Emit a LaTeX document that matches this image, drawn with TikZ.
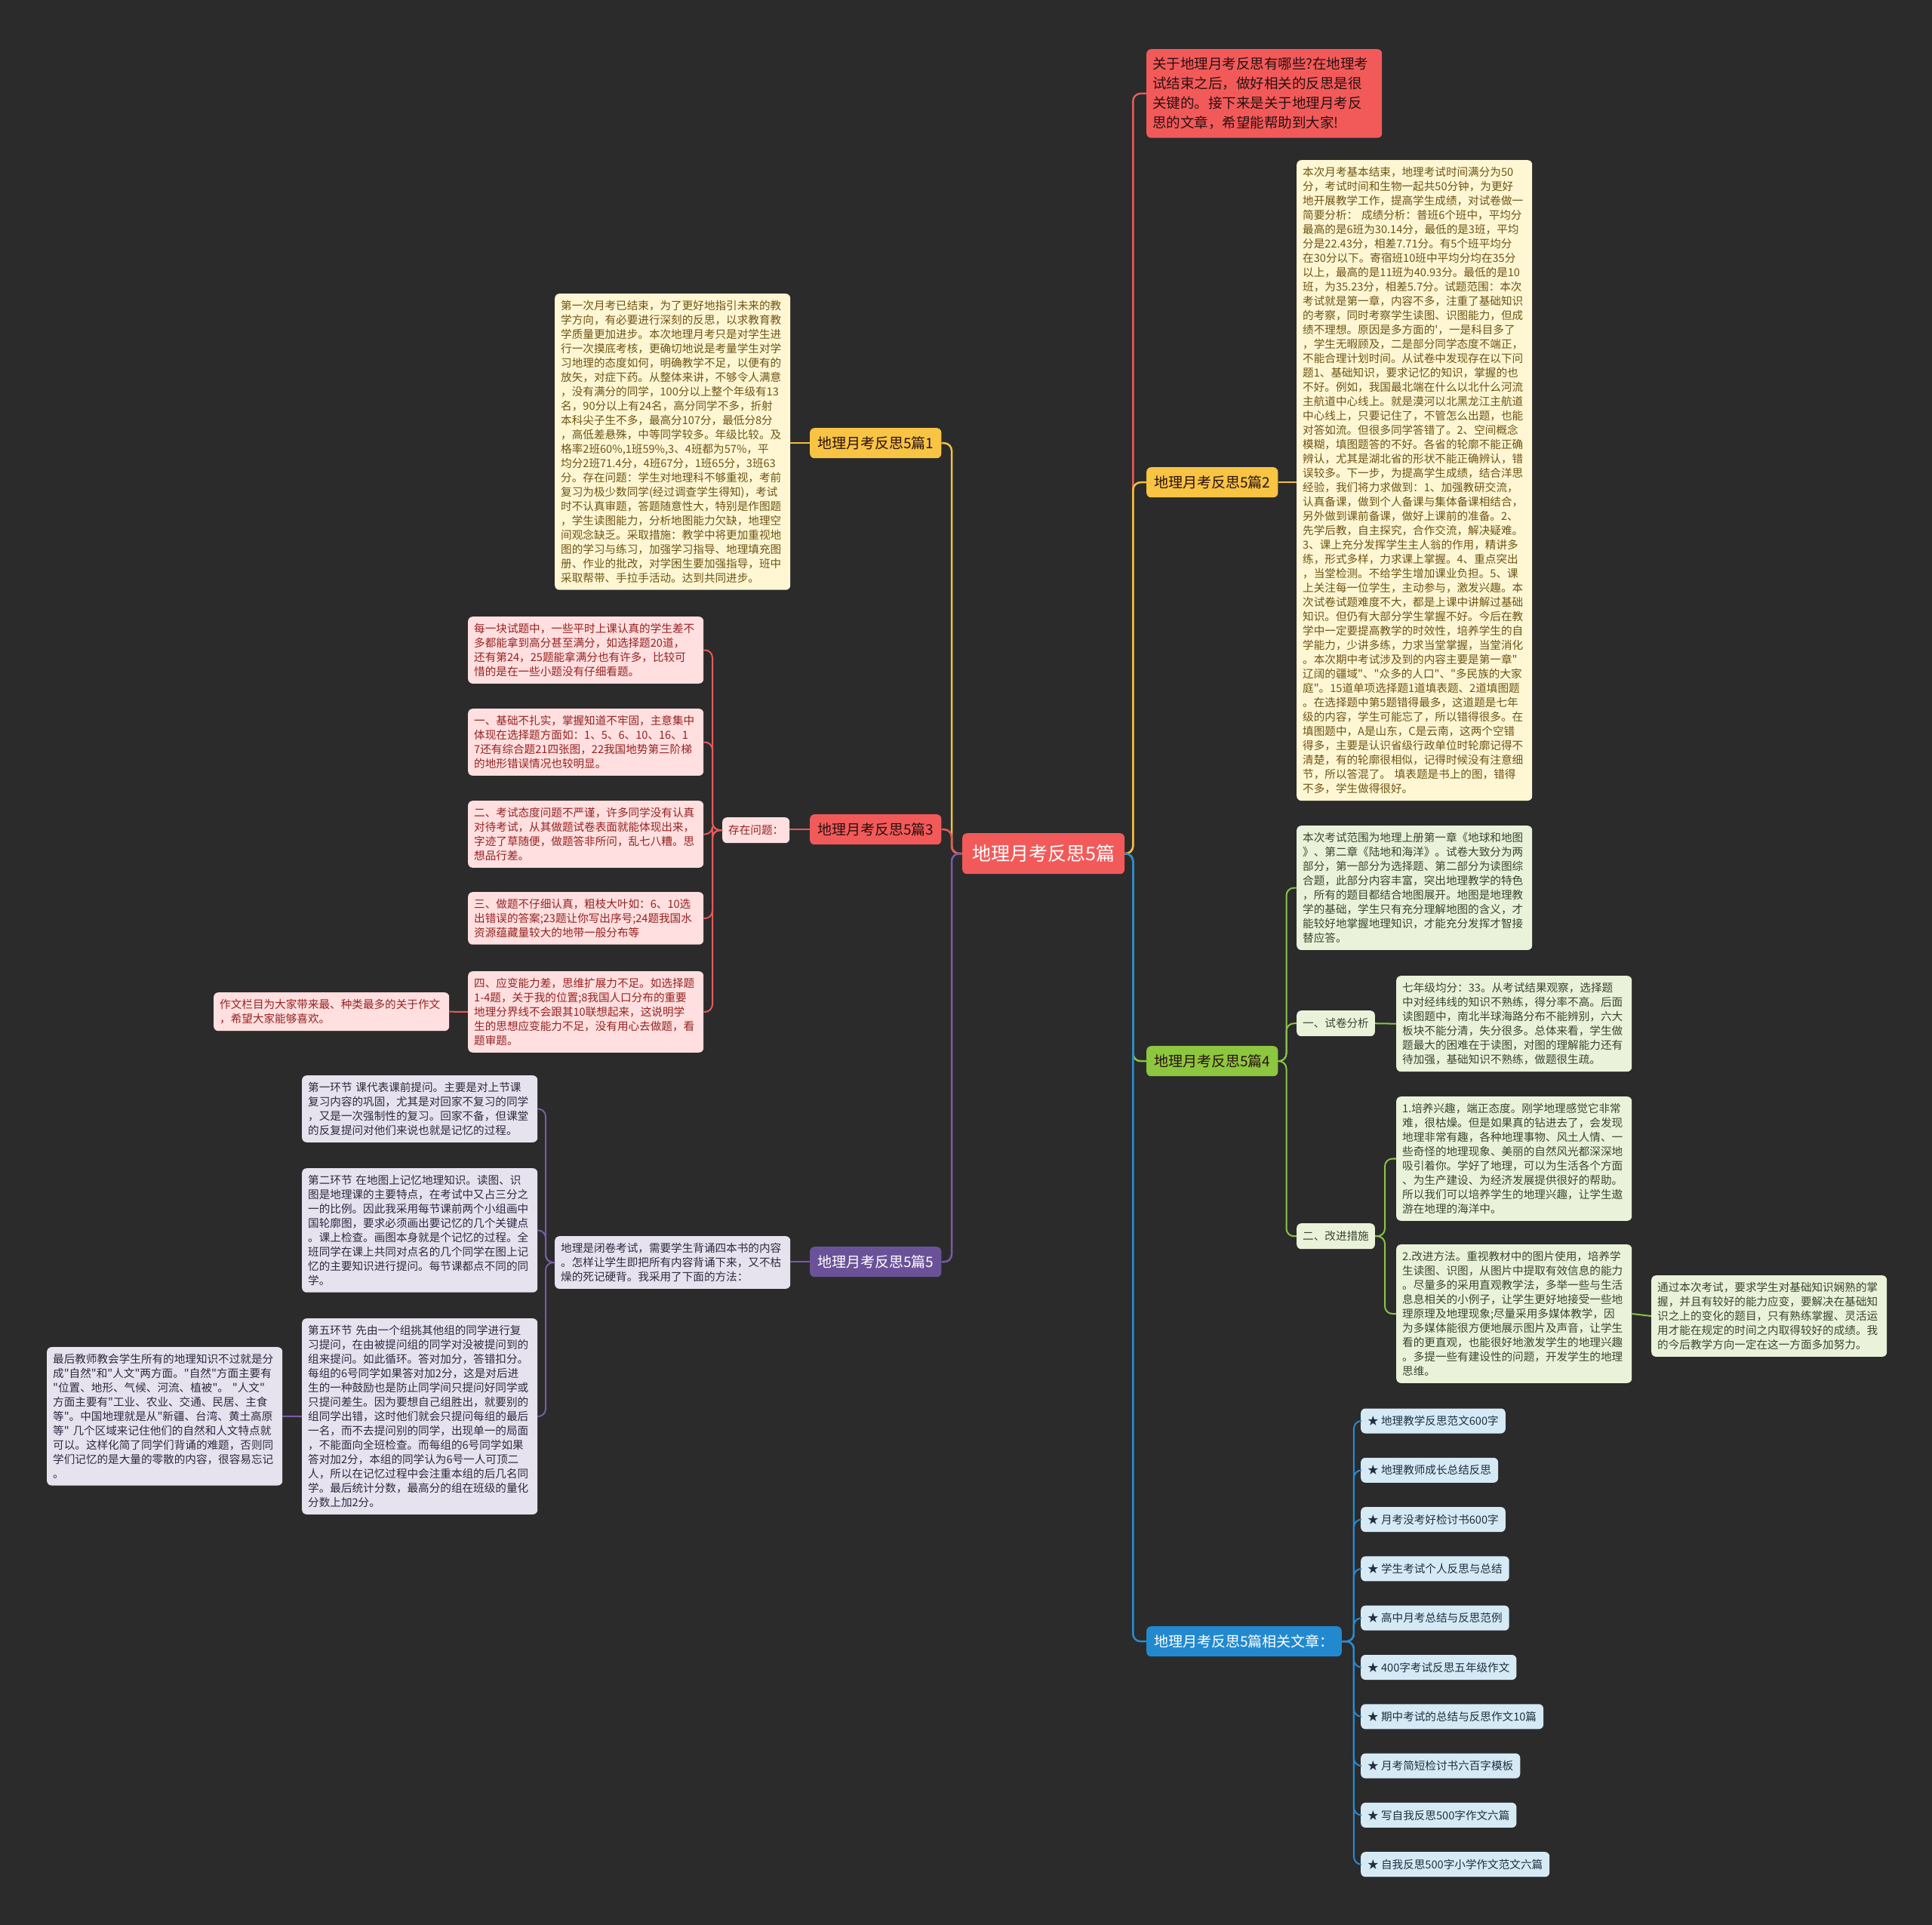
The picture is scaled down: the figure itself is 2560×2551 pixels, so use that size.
\documentclass[tikz,border=0pt]{standalone}
\usepackage{fontspec}
\newfontfamily\cjk{Noto Sans CJK SC}
\setlength{\parindent}{0pt}
\definecolor{bg}{HTML}{2B2B2B}
\definecolor{redf}{HTML}{F25A5A}
\definecolor{redtxt}{HTML}{2A1010}
\definecolor{yelf}{HTML}{F7C443}
\definecolor{grnf}{HTML}{8DC63F}
\definecolor{purf}{HTML}{6A5298}
\definecolor{bluf}{HTML}{2389CF}
\definecolor{cream}{HTML}{FFF7D4}
\definecolor{creamtxt}{HTML}{6E5413}
\definecolor{pinkf}{HTML}{FFDFDF}
\definecolor{pinktxt}{HTML}{962323}
\definecolor{greenf}{HTML}{EAF3DA}
\definecolor{greentxt}{HTML}{3A4430}
\definecolor{lavf}{HTML}{E6E3EF}
\definecolor{lavtxt}{HTML}{2E2A40}
\definecolor{lbf}{HTML}{D6EAF6}
\definecolor{lbtxt}{HTML}{1F2F3F}
\definecolor{redE}{HTML}{E35B5B}
\definecolor{yelE}{HTML}{F0C040}
\definecolor{grnE}{HTML}{8BC34A}
\definecolor{purE}{HTML}{7A5BA8}
\definecolor{bluE}{HTML}{2A8BD0}
\tikzset{
  nd/.style={rounded corners=6pt, anchor=north west, align=left, inner xsep=8pt, inner ysep=9pt},
  tb/.style={nd, text width=296pt, font=\cjk\fontsize{14.6}{19}\selectfont},
  ytb/.style={tb, fill=cream, text=creamtxt},
  ptb/.style={tb, fill=pinkf, text=pinktxt},
  gtb/.style={tb, fill=greenf, text=greentxt},
  vtb/.style={tb, fill=lavf, text=lavtxt},
  br/.style={nd, font=\cjk\fontsize{19}{23}\selectfont, minimum height=40pt, inner xsep=10pt, inner ysep=0pt, align=center},
  lab/.style={nd, font=\cjk\fontsize{14.6}{18}\selectfont, minimum height=34pt, inner ysep=0pt},
  lk/.style={nd, anchor=west, fill=lbf, text=lbtxt, font=\cjk\fontsize{14.6}{18}\selectfont, inner ysep=0pt, minimum height=33pt, inner xsep=9pt},
  edge/.style={line width=2.5pt, rounded corners=10pt},
}
\begin{document}
\begin{tikzpicture}[x=1pt,y=-1pt]
\fill[bg] (0,0) rectangle (2560,2551);
\useasboundingbox (0,0) rectangle (2560,2551);

% main
\node[br, font=\cjk\fontsize{25}{30}\selectfont, fill=redf, text=white, minimum height=54pt, inner xsep=13pt] (main) at (1275,1104) {地理月考反思5篇};

% top red intro
\node[nd, text width=296pt, font=\cjk\fontsize{18.5}{26}\selectfont, fill=redf, text=redtxt, inner ysep=11pt] (intro) at (1519,65) {关于地理月考反思有哪些?在地理考\\试结束之后，做好相关的反思是很\\关键的。接下来是关于地理月考反\\思的文章，希望能帮助到大家!};

% branches
\node[br, fill=yelf, text=redtxt] (b1) at (1073,567) {地理月考反思5篇1};
\node[br, fill=yelf, text=redtxt] (b2) at (1519,619) {地理月考反思5篇2};
\node[br, fill=redf, text=redtxt] (b3) at (1073,1079) {地理月考反思5篇3};
\node[br, fill=grnf, text=redtxt] (b4) at (1519,1386) {地理月考反思5篇4};
\node[br, fill=purf, text=white] (b5) at (1073,1652) {地理月考反思5篇5};
\node[br, fill=bluf, text=white] (b6) at (1519,2155) {地理月考反思5篇相关文章：};

% branch 1 text
\node[ytb] (t1) at (735,389) {第一次月考已结束，为了更好地指引未来的教\\学方向，有必要进行深刻的反思，以求教育教\\学质量更加进步。本次地理月考只是对学生进\\行一次摸底考核，更确切地说是考量学生对学\\习地理的态度如何，明确教学不足，以便有的\\放矢，对症下药。从整体来讲，不够令人满意\\，没有满分的同学，100分以上整个年级有13\\名，90分以上有24名，高分同学不多，折射\\本科尖子生不多，最高分107分，最低分8分\\，高低差悬殊，中等同学较多。年级比较。及\\格率2班60\%,1班59\%,3、4班都为57\%，平\\均分2班71.4分，4班67分，1班65分，3班63\\分。存在问题：学生对地理科不够重视，考前\\复习为极少数同学(经过调查学生得知)，考试\\时不认真审题，答题随意性大，特别是作图题\\，学生读图能力，分析地图能力欠缺，地理空\\间观念缺乏。采取措施：教学中将更加重视地\\图的学习与练习，加强学习指导、地理填充图\\册、作业的批改，对学困生要加强指导，班中\\采取帮带、手拉手活动。达到共同进步。};

% branch 2 text
\node[ytb] (t2) at (1718,212) {本次月考基本结束，地理考试时间满分为50\\分，考试时间和生物一起共50分钟，为更好\\地开展教学工作，提高学生成绩，对试卷做一\\简要分析： 成绩分析：普班6个班中，平均分\\最高的是6班为30.14分，最低的是3班，平均\\分是22.43分，相差7.71分。有5个班平均分\\在30分以下。寄宿班10班中平均分均在35分\\以上，最高的是11班为40.93分。最低的是10\\班，为35.23分，相差5.7分。试题范围：本次\\考试就是第一章，内容不多，注重了基础知识\\的考察，同时考察学生读图、识图能力，但成\\绩不理想。原因是多方面的'，一是科目多了\\，学生无暇顾及，二是部分同学态度不端正，\\不能合理计划时间。从试卷中发现存在以下问\\题1、基础知识，要求记忆的知识，掌握的也\\不好。例如，我国最北端在什么以北什么河流\\主航道中心线上。就是漠河以北黑龙江主航道\\中心线上，只要记住了，不管怎么出题，也能\\对答如流。但很多同学答错了。2、空间概念\\模糊，填图题答的不好。各省的轮廓不能正确\\辨认，尤其是湖北省的形状不能正确辨认，错\\误较多。下一步，为提高学生成绩，结合洋思\\经验，我们将力求做到：1、加强教研交流，\\认真备课，做到个人备课与集体备课相结合，\\另外做到课前备课，做好上课前的准备。2、\\先学后教，自主探究，合作交流，解决疑难。\\3、课上充分发挥学生主人翁的作用，精讲多\\练，形式多样，力求课上掌握。4、重点突出\\，当堂检测。不给学生增加课业负担。5、课\\上关注每一位学生，主动参与，激发兴趣。本\\次试卷试题难度不大，都是上课中讲解过基础\\知识。但仍有大部分学生掌握不好。今后在教\\学中一定要提高教学的时效性，培养学生的自\\学能力，少讲多练，力求当堂掌握，当堂消化\\。本次期中考试涉及到的内容主要是第一章"\\辽阔的疆域"、"众多的人口"、"多民族的大家\\庭"。15道单项选择题1道填表题、2道填图题\\。在选择题中第5题错得最多，这道题是七年\\级的内容，学生可能忘了，所以错得很多。在\\填图题中，A是山东，C是云南，这两个空错\\得多，主要是认识省级行政单位时轮廓记得不\\清楚，有的轮廓很相似，记得时候没有注意细\\节，所以答混了。 填表题是书上的图，错得\\不多，学生做得很好。};

% branch 3
\node[lab, fill=pinkf, text=pinktxt] (q0) at (957,1083) {存在问题：};
\node[ptb] (p1) at (620,817) {每一块试题中，一些平时上课认真的学生差不\\多都能拿到高分甚至满分，如选择题20道，\\还有第24，25题能拿满分也有许多，比较可\\惜的是在一些小题没有仔细看题。};
\node[ptb] (p2) at (620,939) {一、基础不扎实，掌握知道不牢固，主意集中\\体现在选择题方面如：1、5、6、10、16、1\\7还有综合题21四张图，22我国地势第三阶梯\\的地形错误情况也较明显。};
\node[ptb] (p3) at (620,1061) {二、考试态度问题不严谨，许多同学没有认真\\对待考试，从其做题试卷表面就能体现出来，\\字迹了草随便，做题答非所问，乱七八糟。思\\想品行差。};
\node[ptb] (p4) at (620,1182) {三、做题不仔细认真，粗枝大叶如：6、10选\\出错误的答案;23题让你写出序号;24题我国水\\资源蕴藏量较大的地带一般分布等};
\node[ptb] (p5) at (620,1287) {四、应变能力差，思维扩展力不足。如选择题\\1-4题，关于我的位置;8我国人口分布的重要\\地理分界线不会跟其10联想起来，这说明学\\生的思想应变能力不足，没有用心去做题，看\\题审题。};
\node[ptb] (p6) at (283,1315) {作文栏目为大家带来最、种类最多的关于作文\\，希望大家能够喜欢。};

% branch 4
\node[gtb] (g0) at (1718,1094) {本次考试范围为地理上册第一章《地球和地图\\》、第二章《陆地和海洋》。试卷大致分为两\\部分，第一部分为选择题、第二部分为读图综\\合题，此部分内容丰富，突出地理教学的特色\\，所有的题目都结合地图展开。地图是地理教\\学的基础，学生只有充分理解地图的含义，才\\能较好地掌握地理知识，才能充分发挥才智接\\替应答。};
\node[lab, fill=greenf, text=greentxt] (ga) at (1718,1339) {一、试卷分析};
\node[gtb] (g1) at (1850,1293) {七年级均分：33。从考试结果观察，选择题\\中对经纬线的知识不熟练，得分率不高。后面\\读图题中，南北半球海路分布不能辨别，六大\\板块不能分清，失分很多。总体来看，学生做\\题最大的困难在于读图，对图的理解能力还有\\待加强，基础知识不熟练，做题很生疏。};
\node[lab, fill=greenf, text=greentxt] (gb) at (1718,1621) {二、改进措施};
\node[gtb] (g2) at (1850,1453) {1.培养兴趣，端正态度。刚学地理感觉它非常\\难，很枯燥。但是如果真的钻进去了，会发现\\地理非常有趣，各种地理事物、风土人情、一\\些奇怪的地理现象、美丽的自然风光都深深地\\吸引着你。学好了地理，可以为生活各个方面\\、为生产建设、为经济发展提供很好的帮助。\\所以我们可以培养学生的地理兴趣，让学生遨\\游在地理的海洋中。};
\node[gtb] (g3) at (1850,1649) {2.改进方法。重视教材中的图片使用，培养学\\生读图、识图，从图片中提取有效信息的能力\\。尽量多的采用直观教学法，多举一些与生活\\息息相关的小例子，让学生更好地接受一些地\\理原理及地理现象;尽量采用多媒体教学，因\\为多媒体能很方便地展示图片及声音，让学生\\看的更直观，也能很好地激发学生的地理兴趣\\。多提一些有建设性的问题，开发学生的地理\\思维。};
\node[gtb] (g4) at (2188,1690) {通过本次考试，要求学生对基础知识娴熟的掌\\握，并且有较好的能力应变，要解决在基础知\\识之上的变化的题目，只有熟练掌握、灵活运\\用才能在规定的时间之内取得较好的成绩。我\\的今后教学方向一定在这一方面多加努力。};

% branch 5
\node[vtb] (m0) at (735,1638) {地理是闭卷考试，需要学生背诵四本书的内容\\。怎样让学生即把所有内容背诵下来，又不枯\\燥的死记硬背。我采用了下面的方法：};
\node[vtb] (m1) at (400,1425) {第一环节 课代表课前提问。主要是对上节课\\复习内容的巩固，尤其是对回家不复习的同学\\，又是一次强制性的复习。回家不备，但课堂\\的反复提问对他们来说也就是记忆的过程。};
\node[vtb] (m2) at (400,1548) {第二环节 在地图上记忆地理知识。读图、识\\图是地理课的主要特点，在考试中又占三分之\\一的比例。因此我采用每节课前两个小组画中\\国轮廓图，要求必须画出要记忆的几个关键点\\。课上检查。画图本身就是个记忆的过程。全\\班同学在课上共同对点名的几个同学在图上记\\忆的主要知识进行提问。每节课都点不同的同\\学。};
\node[vtb] (m3) at (400,1747) {第五环节 先由一个组挑其他组的同学进行复\\习提问，在由被提问组的同学对没被提问到的\\组来提问。如此循环。答对加分，答错扣分。\\每组的6号同学如果答对加2分，这是对后进\\生的一种鼓励也是防止同学间只提问好同学或\\只提问差生。因为要想自己组胜出，就要别的\\组同学出错，这时他们就会只提问每组的最后\\一名，而不去提问别的同学，出现单一的局面\\，不能面向全班检查。而每组的6号同学如果\\答对加2分，本组的同学认为6号一人可顶二\\人，所以在记忆过程中会注重本组的后几名同\\学。最后统计分数，最高分的组在班级的量化\\分数上加2分。};
\node[vtb] (m4) at (62,1785) {最后教师教会学生所有的地理知识不过就是分\\成"自然"和"人文"两方面。"自然"方面主要有\\"位置、地形、气候、河流、植被"。 "人文"\\方面主要有"工业、农业、交通、民居、主食\\等"。中国地理就是从"新疆、台湾、黄土高原\\等" 几个区域来记住他们的自然和人文特点就\\可以。这样化简了同学们背诵的难题，否则同\\学们记忆的是大量的零散的内容，很容易忘记\\。};

% connectors from main
\draw[edge, draw=redE] (main.east) -- ([xshift=11pt]main.east) |- (intro.west);
\draw[edge, draw=yelE] (main.east) -- ([xshift=11pt]main.east) |- (b2.west);
\draw[edge, draw=grnE] (main.east) -- ([xshift=11pt]main.east) |- (b4.west);
\draw[edge, draw=bluE] (main.east) -- ([xshift=11pt]main.east) |- (b6.west);
\draw[edge, draw=yelE] (main.west) -- ([xshift=-14pt]main.west) |- (b1.east);
\draw[edge, draw=redE] (main.west) -- ([xshift=-14pt]main.west) |- (b3.east);
\draw[edge, draw=purE] (main.west) -- ([xshift=-14pt]main.west) |- (b5.east);

% branch 1/2
\draw[edge, draw=yelE, line width=2pt] (b1.west) -- (t1.east |- b1.west);
\draw[edge, draw=yelE, line width=2pt] (b2.east) -- (t2.west |- b2.east);

% branch 3
\draw[edge, draw=redE, line width=2pt] (b3.west) -- (q0.east |- b3.west);
\foreach \n in {p1,p2,p3,p4,p5}
  \draw[edge, draw=redE, line width=2pt] (q0.west) -- ([xshift=-13pt]q0.west) |- (\n.east);
\draw[edge, draw=redE, line width=2pt] (p5.west) -- (p6.east);

% branch 4
\foreach \n in {g0,ga,gb}
  \draw[edge, draw=grnE, line width=2pt] (b4.east) -- ([xshift=11pt]b4.east) |- (\n.west);
\draw[edge, draw=grnE, line width=2pt] (ga.east) -- (g1.west);
\foreach \n in {g2,g3}
  \draw[edge, draw=grnE, line width=2pt] (gb.east) -- ([xshift=13pt]gb.east) |- (\n.west);
\draw[edge, draw=grnE, line width=2pt] (g3.east) -- (g4.west);

% branch 5
\draw[edge, draw=purE, line width=2pt] (b5.west) -- (m0.east |- b5.west);
\foreach \n in {m1,m2,m3}
  \draw[edge, draw=purE, line width=2pt] (m0.west) -- ([xshift=-12pt]m0.west) |- (\n.east);
\draw[edge, draw=purE, line width=2pt] (m3.west) -- (m4.east);

% related links
\foreach \t [count=\i] in {{地理教学反思范文600字},{地理教师成长总结反思},{月考没考好检讨书600字},{学生考试个人反思与总结},{高中月考总结与反思范例},{400字考试反思五年级作文},{期中考试的总结与反思作文10篇},{月考简短检讨书六百字模板},{写自我反思500字作文六篇},{自我反思500字小学作文范文六篇}} {
  \node[lk] (l\i) at (1803, {1883+65.3*(\i-1)}) {★ \t};
  \draw[edge, draw=bluE, line width=2pt] (b6.east) -- ([xshift=16pt]b6.east) |- (l\i.west);
}
\end{tikzpicture}
\end{document}
